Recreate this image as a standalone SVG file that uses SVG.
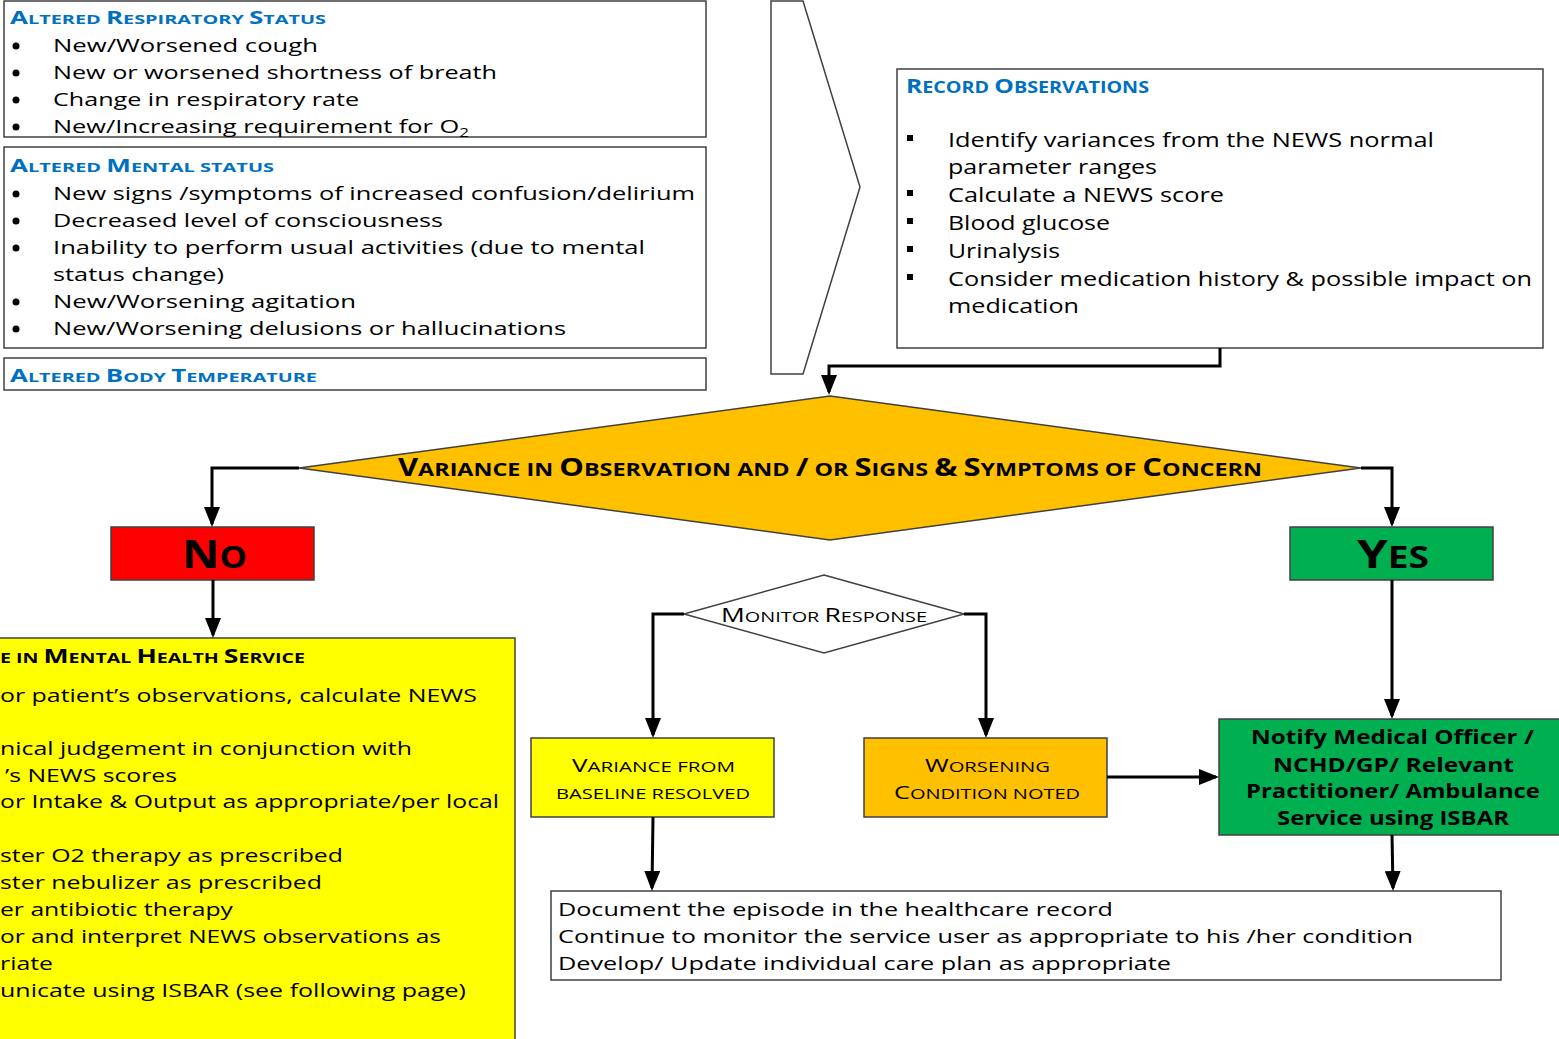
<svg xmlns="http://www.w3.org/2000/svg" width="1559" height="1039" viewBox="0 0 1559 1039">
<style>
text{font-family:"Open Sans","DejaVu Sans",sans-serif;fill:#000}
.b{font-size:18px}
.r{font-size:20px}
.y{font-size:19px}
.ttl{font-weight:bold;fill:#0070C0;font-size:13px}
.rt{font-weight:bold;fill:#0070C0;font-size:16px}
.c{font-size:17px}
.rc{font-size:20px}
.box{stroke:#404040;stroke-width:1.5}
.w{fill:#fff}
.yel{fill:#FFFF00}
.org{fill:#FFC000}
.grn{fill:#00B050}
.red{fill:#FF0000}
.conn{fill:none;stroke:#000;stroke-width:3;marker-end:url(#ah)}
.bul{fill:#000}
</style>
<defs>
<marker id="ah" markerUnits="userSpaceOnUse" viewBox="0 0 20 16" refX="17" refY="8" markerWidth="20" markerHeight="16" orient="auto">
<path d="M0,0 L20,8 L0,16 z" fill="#000"/>
</marker>
</defs>
<rect width="1559" height="1039" fill="#fff"/>

<g id="resp">
<rect class="box w" x="4" y="1" width="702" height="136"/>
<text class="ttl" x="10" y="24" textLength="316" lengthAdjust="spacingAndGlyphs"><tspan class="c">A</tspan>LTERED <tspan class="c">R</tspan>ESPIRATORY <tspan class="c">S</tspan>TATUS</text>
<circle class="bul" cx="16" cy="46" r="3.5"/><circle class="bul" cx="16" cy="73" r="3.5"/><circle class="bul" cx="16" cy="100" r="3.5"/><circle class="bul" cx="16" cy="127" r="3.5"/>
<text class="b" x="53" y="52" textLength="265" lengthAdjust="spacingAndGlyphs">New/Worsened cough</text>
<text class="b" x="53" y="79" textLength="444" lengthAdjust="spacingAndGlyphs">New or worsened shortness of breath</text>
<text class="b" x="53" y="106" textLength="306" lengthAdjust="spacingAndGlyphs">Change in respiratory rate</text>
<text class="b" x="53" y="133" textLength="416" lengthAdjust="spacingAndGlyphs">New/Increasing requirement for O<tspan font-size="12" dy="4">2</tspan></text>
</g>

<g id="mental">
<rect class="box w" x="4" y="147" width="702" height="201"/>
<text class="ttl" x="10" y="172" textLength="264" lengthAdjust="spacingAndGlyphs"><tspan class="c">A</tspan>LTERED <tspan class="c">M</tspan>ENTAL STATUS</text>
<circle class="bul" cx="16" cy="194" r="3.5"/><circle class="bul" cx="16" cy="221" r="3.5"/><circle class="bul" cx="16" cy="248" r="3.5"/><circle class="bul" cx="16" cy="302" r="3.5"/><circle class="bul" cx="16" cy="329" r="3.5"/>
<text class="b" x="53" y="200" textLength="642" lengthAdjust="spacingAndGlyphs">New signs /symptoms of increased confusion/delirium</text>
<text class="b" x="53" y="227" textLength="390" lengthAdjust="spacingAndGlyphs">Decreased level of consciousness</text>
<text class="b" x="53" y="254" textLength="592" lengthAdjust="spacingAndGlyphs">Inability to perform usual activities (due to mental</text>
<text class="b" x="53" y="281" textLength="171" lengthAdjust="spacingAndGlyphs">status change)</text>
<text class="b" x="53" y="308" textLength="303" lengthAdjust="spacingAndGlyphs">New/Worsening agitation</text>
<text class="b" x="53" y="335" textLength="513" lengthAdjust="spacingAndGlyphs">New/Worsening delusions or hallucinations</text>
</g>

<g id="temp">
<rect class="box w" x="4" y="358" width="702" height="32"/>
<text class="ttl" x="10" y="382" textLength="307" lengthAdjust="spacingAndGlyphs"><tspan class="c">A</tspan>LTERED <tspan class="c">B</tspan>ODY <tspan class="c">T</tspan>EMPERATURE</text>
</g>

<g id="chevron">
<polygon class="box w" stroke="#222" points="771,1 803,1 860,187 803,374 771,374"/>
</g>

<g id="record">
<rect class="box w" x="897" y="69" width="646" height="279"/>
<text class="rt" x="906" y="93" textLength="243" lengthAdjust="spacingAndGlyphs"><tspan class="rc">R</tspan>ECORD <tspan class="rc">O</tspan>BSERVATIONS</text>
<rect class="bul" x="907" y="135" width="6" height="6"/><rect class="bul" x="907" y="190" width="6" height="6"/><rect class="bul" x="907" y="218" width="6" height="6"/><rect class="bul" x="907" y="246" width="6" height="6"/><rect class="bul" x="907" y="274" width="6" height="6"/>
<text class="r" x="948" y="147" textLength="486" lengthAdjust="spacingAndGlyphs">Identify variances from the NEWS normal</text>
<text class="r" x="948" y="174" textLength="209" lengthAdjust="spacingAndGlyphs">parameter ranges</text>
<text class="r" x="948" y="202" textLength="276" lengthAdjust="spacingAndGlyphs">Calculate a NEWS score</text>
<text class="r" x="948" y="230" textLength="162" lengthAdjust="spacingAndGlyphs">Blood glucose</text>
<text class="r" x="948" y="258" textLength="112" lengthAdjust="spacingAndGlyphs">Urinalysis</text>
<text class="r" x="948" y="286" textLength="584" lengthAdjust="spacingAndGlyphs">Consider medication history &amp; possible impact on</text>
<text class="r" x="948" y="313" textLength="131" lengthAdjust="spacingAndGlyphs">medication</text>
</g>

<g id="variance">
<polygon class="box org" stroke="#000" points="830,396 1361,468 830,540 299,468"/>
<text x="398" y="476" font-size="18.5" font-weight="bold" textLength="864" lengthAdjust="spacingAndGlyphs"><tspan font-size="24.5">V</tspan>ARIANCE IN <tspan font-size="24.5">O</tspan>BSERVATION AND <tspan font-size="24.5">/</tspan> OR <tspan font-size="24.5">S</tspan>IGNS <tspan font-size="24.5">&amp;</tspan> <tspan font-size="24.5">S</tspan>YMPTOMS OF <tspan font-size="24.5">C</tspan>ONCERN</text>
</g>

<g id="no">
<rect class="box red" x="111" y="527" width="203" height="53"/>
<text x="182" y="568" font-size="30" font-weight="bold" textLength="65" lengthAdjust="spacingAndGlyphs"><tspan font-size="40">N</tspan>O</text>
</g>

<g id="yes">
<rect class="box grn" x="1290" y="527" width="203" height="53"/>
<text x="1357" y="568" font-size="30" font-weight="bold" textLength="72" lengthAdjust="spacingAndGlyphs"><tspan font-size="40">Y</tspan>ES</text>
</g>

<g id="care">
<rect class="box yel" x="-3" y="638" width="518" height="405"/>
<text x="0" y="663" font-size="14" font-weight="bold" textLength="305" lengthAdjust="spacingAndGlyphs">E IN <tspan font-size="19">M</tspan>ENTAL <tspan font-size="19">H</tspan>EALTH <tspan font-size="19">S</tspan>ERVICE</text>
<text class="y" x="0" y="702" textLength="477" lengthAdjust="spacingAndGlyphs">or patient’s observations, calculate NEWS</text>
<text class="y" x="0" y="755" textLength="412" lengthAdjust="spacingAndGlyphs">nical judgement in conjunction with</text>
<text class="y" x="5" y="782" textLength="172" lengthAdjust="spacingAndGlyphs">’s NEWS scores</text>
<text class="y" x="0" y="808" textLength="499" lengthAdjust="spacingAndGlyphs">or Intake &amp; Output as appropriate/per local</text>
<text class="y" x="0" y="862" textLength="343" lengthAdjust="spacingAndGlyphs">ster O2 therapy as prescribed</text>
<text class="y" x="0" y="889" textLength="322" lengthAdjust="spacingAndGlyphs">ster nebulizer as prescribed</text>
<text class="y" x="0" y="916" textLength="233" lengthAdjust="spacingAndGlyphs">er antibiotic therapy</text>
<text class="y" x="0" y="943" textLength="441" lengthAdjust="spacingAndGlyphs">or and interpret NEWS observations as</text>
<text class="y" x="0" y="970" textLength="53" lengthAdjust="spacingAndGlyphs">riate</text>
<text class="y" x="0" y="997" textLength="466" lengthAdjust="spacingAndGlyphs">unicate using ISBAR (see following page)</text>
</g>

<g id="monitor">
<polygon class="box w" stroke="#000" points="824,575 964,614 824,653 684,614"/>
<text x="721" y="622" font-size="15" textLength="206" lengthAdjust="spacingAndGlyphs"><tspan font-size="20">M</tspan>ONITOR <tspan font-size="20">R</tspan>ESPONSE</text>
</g>

<g id="resolved">
<rect class="box yel" x="531" y="738" width="243" height="79"/>
<text x="572" y="772" font-size="15" textLength="163" lengthAdjust="spacingAndGlyphs"><tspan font-size="19">V</tspan>ARIANCE FROM</text>
<text x="556" y="799" font-size="15" textLength="194" lengthAdjust="spacingAndGlyphs">BASELINE RESOLVED</text>
</g>

<g id="worsening">
<rect class="box org" x="864" y="738" width="243" height="79"/>
<text x="925" y="772" font-size="15" textLength="125" lengthAdjust="spacingAndGlyphs"><tspan font-size="19">W</tspan>ORSENING</text>
<text x="894" y="799" font-size="15" textLength="186" lengthAdjust="spacingAndGlyphs"><tspan font-size="19">C</tspan>ONDITION NOTED</text>
</g>

<g id="notify">
<rect class="box grn" x="1219" y="719" width="345" height="116"/>
<text x="1251" y="744" font-size="19" font-weight="bold" textLength="283" lengthAdjust="spacingAndGlyphs">Notify Medical Officer /</text>
<text x="1273" y="772" font-size="19" font-weight="bold" textLength="241" lengthAdjust="spacingAndGlyphs">NCHD/GP/ Relevant</text>
<text x="1246" y="798" font-size="19" font-weight="bold" textLength="294" lengthAdjust="spacingAndGlyphs">Practitioner/ Ambulance</text>
<text x="1277" y="825" font-size="19" font-weight="bold" textLength="232" lengthAdjust="spacingAndGlyphs">Service using ISBAR</text>
</g>

<g id="document">
<rect class="box w" x="551" y="891" width="950" height="89"/>
<text class="y" x="558" y="916" textLength="555" lengthAdjust="spacingAndGlyphs">Document the episode in the healthcare record</text>
<text class="y" x="558" y="943" textLength="855" lengthAdjust="spacingAndGlyphs">Continue to monitor the service user as appropriate to his /her condition</text>
<text class="y" x="558" y="970" textLength="613" lengthAdjust="spacingAndGlyphs">Develop/ Update individual care plan as appropriate</text>
</g>

<g id="connectors">
<path class="conn" d="M1220,348 V366 H829 V392"/>
<path class="conn" d="M299,468 H212 V524"/>
<path class="conn" d="M1361,468 H1392 V524"/>
<path class="conn" d="M213,580 V635"/>
<path class="conn" d="M1392,580 V716"/>
<path class="conn" d="M684,614 H653 V735"/>
<path class="conn" d="M964,614 H986 V735"/>
<path class="conn" d="M1107,777 H1216"/>
<path class="conn" d="M653,817 L652,888"/>
<path class="conn" d="M1392,835 L1393,888"/>
</g>
</svg>
